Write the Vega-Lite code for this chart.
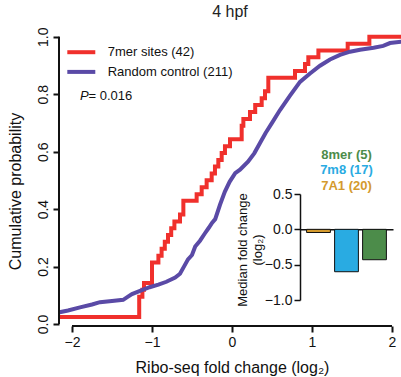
{
  "$schema": "https://vega.github.io/schema/vega-lite/v6.json",
  "width": 342,
  "height": 295,
  "autosize": {"type": "none"},
  "padding": {"left": 59, "top": 31, "right": 0, "bottom": 51},
  "background": "white",
  "config": {
    "font": "Liberation Sans",
    "view": {"stroke": null},
    "axis": {"grid": false, "labelColor": "#111", "titleColor": "#111", "domainColor": "#111", "tickColor": "#111", "titleFontWeight": "normal"},
    "legend": {"padding": 0}
  },
  "title": {"text": "4 hpf", "fontSize": 16, "fontWeight": "normal", "offset": 12, "dy": 18, "baseline": "alphabetic", "anchor": "middle", "color": "#222"},
  "datasets": {
    "red": [
      {"group": "7mer sites (42)", "fc": -2.5, "cp": 0.024},
      {"group": "7mer sites (42)", "fc": -1.16, "cp": 0.095},
      {"group": "7mer sites (42)", "fc": -1.12, "cp": 0.119},
      {"group": "7mer sites (42)", "fc": -1.10, "cp": 0.143},
      {"group": "7mer sites (42)", "fc": -1.00, "cp": 0.214},
      {"group": "7mer sites (42)", "fc": -0.92, "cp": 0.238},
      {"group": "7mer sites (42)", "fc": -0.88, "cp": 0.262},
      {"group": "7mer sites (42)", "fc": -0.84, "cp": 0.286},
      {"group": "7mer sites (42)", "fc": -0.80, "cp": 0.310},
      {"group": "7mer sites (42)", "fc": -0.76, "cp": 0.333},
      {"group": "7mer sites (42)", "fc": -0.72, "cp": 0.357},
      {"group": "7mer sites (42)", "fc": -0.65, "cp": 0.381},
      {"group": "7mer sites (42)", "fc": -0.608, "cp": 0.429},
      {"group": "7mer sites (42)", "fc": -0.442, "cp": 0.452},
      {"group": "7mer sites (42)", "fc": -0.379, "cp": 0.476},
      {"group": "7mer sites (42)", "fc": -0.317, "cp": 0.500},
      {"group": "7mer sites (42)", "fc": -0.254, "cp": 0.524},
      {"group": "7mer sites (42)", "fc": -0.213, "cp": 0.548},
      {"group": "7mer sites (42)", "fc": -0.171, "cp": 0.571},
      {"group": "7mer sites (42)", "fc": -0.129, "cp": 0.595},
      {"group": "7mer sites (42)", "fc": -0.088, "cp": 0.619},
      {"group": "7mer sites (42)", "fc": -0.025, "cp": 0.643},
      {"group": "7mer sites (42)", "fc": 0.121, "cp": 0.690},
      {"group": "7mer sites (42)", "fc": 0.142, "cp": 0.714},
      {"group": "7mer sites (42)", "fc": 0.225, "cp": 0.738},
      {"group": "7mer sites (42)", "fc": 0.29, "cp": 0.762},
      {"group": "7mer sites (42)", "fc": 0.371, "cp": 0.786},
      {"group": "7mer sites (42)", "fc": 0.4125, "cp": 0.810},
      {"group": "7mer sites (42)", "fc": 0.454, "cp": 0.857},
      {"group": "7mer sites (42)", "fc": 0.7875, "cp": 0.881},
      {"group": "7mer sites (42)", "fc": 0.9125, "cp": 0.905},
      {"group": "7mer sites (42)", "fc": 0.954, "cp": 0.929},
      {"group": "7mer sites (42)", "fc": 1.08, "cp": 0.952},
      {"group": "7mer sites (42)", "fc": 1.446, "cp": 0.976},
      {"group": "7mer sites (42)", "fc": 1.717, "cp": 1.0},
      {"group": "7mer sites (42)", "fc": 2.5, "cp": 1.0}
    ],
    "purple": [
      {"group": "Random control (211)", "fc": -2.3, "cp": 0.036},
      {"group": "Random control (211)", "fc": -2.17, "cp": 0.040},
      {"group": "Random control (211)", "fc": -2.05, "cp": 0.047},
      {"group": "Random control (211)", "fc": -1.9, "cp": 0.058},
      {"group": "Random control (211)", "fc": -1.75, "cp": 0.068},
      {"group": "Random control (211)", "fc": -1.65, "cp": 0.076},
      {"group": "Random control (211)", "fc": -1.5, "cp": 0.080},
      {"group": "Random control (211)", "fc": -1.36, "cp": 0.084},
      {"group": "Random control (211)", "fc": -1.30, "cp": 0.095},
      {"group": "Random control (211)", "fc": -1.25, "cp": 0.104},
      {"group": "Random control (211)", "fc": -1.15, "cp": 0.115},
      {"group": "Random control (211)", "fc": -1.03, "cp": 0.128},
      {"group": "Random control (211)", "fc": -0.92, "cp": 0.137},
      {"group": "Random control (211)", "fc": -0.82, "cp": 0.147},
      {"group": "Random control (211)", "fc": -0.71, "cp": 0.162},
      {"group": "Random control (211)", "fc": -0.65, "cp": 0.175},
      {"group": "Random control (211)", "fc": -0.59, "cp": 0.205},
      {"group": "Random control (211)", "fc": -0.55, "cp": 0.225},
      {"group": "Random control (211)", "fc": -0.50, "cp": 0.240},
      {"group": "Random control (211)", "fc": -0.46, "cp": 0.270},
      {"group": "Random control (211)", "fc": -0.40, "cp": 0.290},
      {"group": "Random control (211)", "fc": -0.34, "cp": 0.315},
      {"group": "Random control (211)", "fc": -0.29, "cp": 0.335},
      {"group": "Random control (211)", "fc": -0.25, "cp": 0.352},
      {"group": "Random control (211)", "fc": -0.21, "cp": 0.365},
      {"group": "Random control (211)", "fc": -0.15, "cp": 0.415},
      {"group": "Random control (211)", "fc": -0.09, "cp": 0.460},
      {"group": "Random control (211)", "fc": -0.03, "cp": 0.495},
      {"group": "Random control (211)", "fc": 0.04, "cp": 0.525},
      {"group": "Random control (211)", "fc": 0.10, "cp": 0.537},
      {"group": "Random control (211)", "fc": 0.20, "cp": 0.565},
      {"group": "Random control (211)", "fc": 0.28, "cp": 0.595},
      {"group": "Random control (211)", "fc": 0.35, "cp": 0.630},
      {"group": "Random control (211)", "fc": 0.42, "cp": 0.665},
      {"group": "Random control (211)", "fc": 0.50, "cp": 0.700},
      {"group": "Random control (211)", "fc": 0.60, "cp": 0.745},
      {"group": "Random control (211)", "fc": 0.725, "cp": 0.795},
      {"group": "Random control (211)", "fc": 0.85, "cp": 0.843},
      {"group": "Random control (211)", "fc": 0.975, "cp": 0.872},
      {"group": "Random control (211)", "fc": 1.10, "cp": 0.899},
      {"group": "Random control (211)", "fc": 1.225, "cp": 0.921},
      {"group": "Random control (211)", "fc": 1.35, "cp": 0.937},
      {"group": "Random control (211)", "fc": 1.475, "cp": 0.948},
      {"group": "Random control (211)", "fc": 1.6, "cp": 0.955},
      {"group": "Random control (211)", "fc": 1.77, "cp": 0.962},
      {"group": "Random control (211)", "fc": 1.89, "cp": 0.968},
      {"group": "Random control (211)", "fc": 1.975, "cp": 0.978},
      {"group": "Random control (211)", "fc": 2.2, "cp": 0.985}
    ],
    "inset": [
      {"site": "7A1 (20)", "median": -0.045},
      {"site": "7m8 (17)", "median": -0.6},
      {"site": "8mer (5)", "median": -0.43}
    ]
  },
  "layer": [
    {
      "layer": [
        {
          "data": {"name": "red"},
          "mark": {"type": "line", "interpolate": "step-after", "strokeWidth": 4, "clip": true},
          "encoding": {
            "x": {"field": "fc", "type": "quantitative",
              "scale": {"domain": [-2.1625, 2.1125], "nice": false, "zero": false},
              "axis": {"title": "Ribo-seq fold change (log₂)", "values": [-2, -1, 0, 1, 2], "format": "d", "domain": false, "tickSize": 6, "tickWidth": 2, "labelFontSize": 14, "labelPadding": 3, "labelFlush": false, "titleFontSize": 16, "titleX": 173, "titleY": 46, "titleAlign": "center", "titleBaseline": "alphabetic"}},
            "y": {"field": "cp", "type": "quantitative",
              "scale": {"domain": [-0.007, 1.02], "nice": false, "zero": false},
              "axis": {"title": "Cumulative probability", "values": [0, 0.2, 0.4, 0.6, 0.8, 1], "format": ".1f", "domain": false, "tickSize": 6, "tickWidth": 2, "labelAngle": -90, "labelAlign": "center", "labelBaseline": "alphabetic", "labelPadding": 6, "labelFontSize": 14, "labelFlush": false, "labelOverlap": false, "titleFontSize": 16, "titleAngle": -90, "titleX": -39, "titleY": 160, "titleAlign": "center", "titleBaseline": "alphabetic"}},
            "stroke": {"field": "group", "type": "nominal",
              "scale": {"domain": ["7mer sites (42)", "Random control (211)"], "range": ["#F0302C", "#5A4AA6"]},
              "legend": {"orient": "none", "legendX": 15.3, "legendY": 14.2, "title": null, "symbolType": "M-3,0L3,0", "symbolSize": 87, "symbolStrokeWidth": 4, "labelFontSize": 13, "labelColor": "#111", "labelOffset": 19.4, "rowPadding": 3.7, "padding": 0}}
          }
        },
        {
          "data": {"name": "purple"},
          "mark": {"type": "line", "strokeWidth": 4, "clip": true},
          "encoding": {
            "x": {"field": "fc", "type": "quantitative", "scale": {"domain": [-2.1625, 2.1125], "nice": false, "zero": false}},
            "y": {"field": "cp", "type": "quantitative", "scale": {"domain": [-0.007, 1.02], "nice": false, "zero": false}},
            "stroke": {"field": "group", "type": "nominal"}
          }
        },
        {
          "data": {"values": [{}]},
          "mark": {"type": "rule", "strokeWidth": 2, "color": "#111"},
          "encoding": {
            "x": {"datum": -2, "type": "quantitative"},
            "x2": {"datum": 2},
            "y": {"datum": -0.007, "type": "quantitative"}
          }
        },
        {
          "data": {"values": [{}]},
          "mark": {"type": "rule", "strokeWidth": 2, "color": "#111"},
          "encoding": {
            "x": {"datum": -2.1625, "type": "quantitative"},
            "y": {"datum": 0, "type": "quantitative"},
            "y2": {"datum": 1}
          }
        },
        {
          "data": {"values": [{}]},
          "mark": {"type": "text", "text": "P", "fontStyle": "italic", "fontSize": 13, "align": "left", "baseline": "alphabetic", "color": "#111"},
          "encoding": {
            "x": {"datum": -1.9, "type": "quantitative"},
            "y": {"datum": 0.78, "type": "quantitative"}
          }
        },
        {
          "data": {"values": [{}]},
          "mark": {"type": "text", "text": "= 0.016", "fontSize": 13, "align": "left", "baseline": "alphabetic", "color": "#111"},
          "encoding": {
            "x": {"datum": -1.793, "type": "quantitative"},
            "y": {"datum": 0.78, "type": "quantitative"}
          }
        }
      ]
    },
    {
      "layer": [
        {
          "data": {"name": "inset"},
          "mark": {"type": "bar", "stroke": "#111", "strokeWidth": 1},
          "encoding": {
            "x": {"field": "site", "type": "nominal", "sort": ["7A1 (20)", "7m8 (17)", "8mer (5)"],
              "scale": {"domain": ["7A1 (20)", "7m8 (17)", "8mer (5)"], "range": [241, 334], "paddingInner": 0.15, "paddingOuter": 0.236},
              "axis": {"orient": "bottom", "offset": -96.7, "labels": false, "ticks": false, "title": null, "domain": true, "domainWidth": 1.5}},
            "y": {"field": "median", "type": "quantitative",
              "scale": {"domain": [-1, 0.5], "range": [269, 163], "nice": false, "zero": false},
              "axis": {"orient": "left", "offset": -241, "values": [-1, -0.5, 0, 0.5], "format": ".1f", "domainWidth": 1.5, "tickWidth": 1.5, "tickSize": 6, "labelFontSize": 14, "labelPadding": 2, "labelFlush": false, "labelOverlap": false, "title": ["Median fold change", "(log₂)"], "titleFontSize": 13, "titleAngle": -90, "titleX": -54, "titleY": 218.5, "titleAlign": "center", "titleBaseline": "alphabetic", "titleLineHeight": 15}},
            "fill": {"field": "site", "type": "nominal",
              "scale": {"domain": ["8mer (5)", "7m8 (17)", "7A1 (20)"], "range": ["#4C8C4A", "#29ABE2", "#D49A2E"]},
              "legend": null}
          }
        },
        {
          "data": {"values": [{}]},
          "mark": {"type": "text", "text": "8mer (5)", "fontSize": 13, "fontWeight": "bold", "align": "center", "baseline": "alphabetic"},
          "encoding": {
            "x": {"datum": "7m8 (17)", "type": "nominal"},
            "y": {"datum": 1.002, "type": "quantitative"},
            "fill": {"datum": "8mer (5)", "type": "nominal", "legend": null}
          }
        },
        {
          "data": {"values": [{}]},
          "mark": {"type": "text", "text": "7m8 (17)", "fontSize": 13, "fontWeight": "bold", "align": "center", "baseline": "alphabetic"},
          "encoding": {
            "x": {"datum": "7m8 (17)", "type": "nominal"},
            "y": {"datum": 0.776, "type": "quantitative"},
            "fill": {"datum": "7m8 (17)", "type": "nominal", "legend": null}
          }
        },
        {
          "data": {"values": [{}]},
          "mark": {"type": "text", "text": "7A1 (20)", "fontSize": 13, "fontWeight": "bold", "align": "center", "baseline": "alphabetic"},
          "encoding": {
            "x": {"datum": "7m8 (17)", "type": "nominal"},
            "y": {"datum": 0.561, "type": "quantitative"},
            "fill": {"datum": "7A1 (20)", "type": "nominal", "legend": null}
          }
        }
      ]
    }
  ],
  "resolve": {"scale": {"x": "independent", "y": "independent"}}
}
